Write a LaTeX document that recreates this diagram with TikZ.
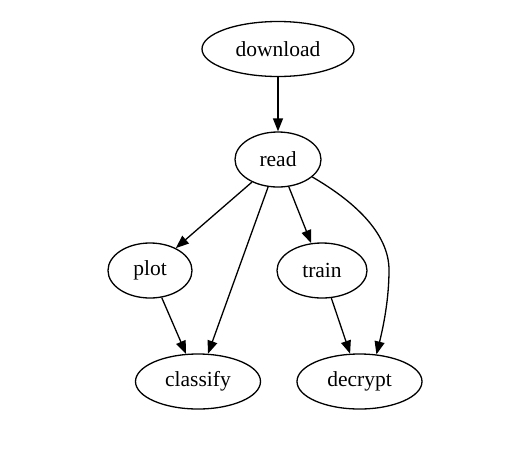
\documentclass[tikz,border=0pt]{standalone}
\usepackage{fontspec}
\setmainfont{Liberation Serif}
\usetikzlibrary{shapes.geometric,arrows.meta}
\begin{document}
\begin{tikzpicture}[x=1pt,y=-1pt,
  nd/.style={draw,ellipse,line width=1.3pt,inner sep=0pt,minimum height=55pt,font=\fontsize{21.5}{25}\selectfont},
  edge/.style={line width=1.3pt,-{Triangle[length=13pt,width=10pt]}}]
\useasboundingbox (0,0) rectangle (516,456);
\node[nd,minimum width=152pt] (download) at (278,49) {download};
\node[nd,minimum width=86pt] (read) at (278,159.5) {read};
\node[nd,minimum width=84pt] (plot) at (150,270.5) {plot};
\node[nd,minimum width=90pt] (train) at (322,270.5) {train};
\node[nd,minimum width=125pt] (classify) at (198,381.5) {classify};
\node[nd,minimum width=125pt] (decrypt) at (359.5,381.5) {decrypt};
\draw[edge] (download) -- (read);
\draw[edge] (read) -- (plot);
\draw[edge] (read) -- (classify);
\draw[edge] (read) -- (train);
\draw[edge] (plot) -- (classify);
\draw[edge] (train) -- (decrypt);
\draw[edge] (read.-27) .. controls (352,200) and (389,232) .. (389,270) .. controls (389,300) and (383,328) .. (decrypt.58);
\end{tikzpicture}
\end{document}
